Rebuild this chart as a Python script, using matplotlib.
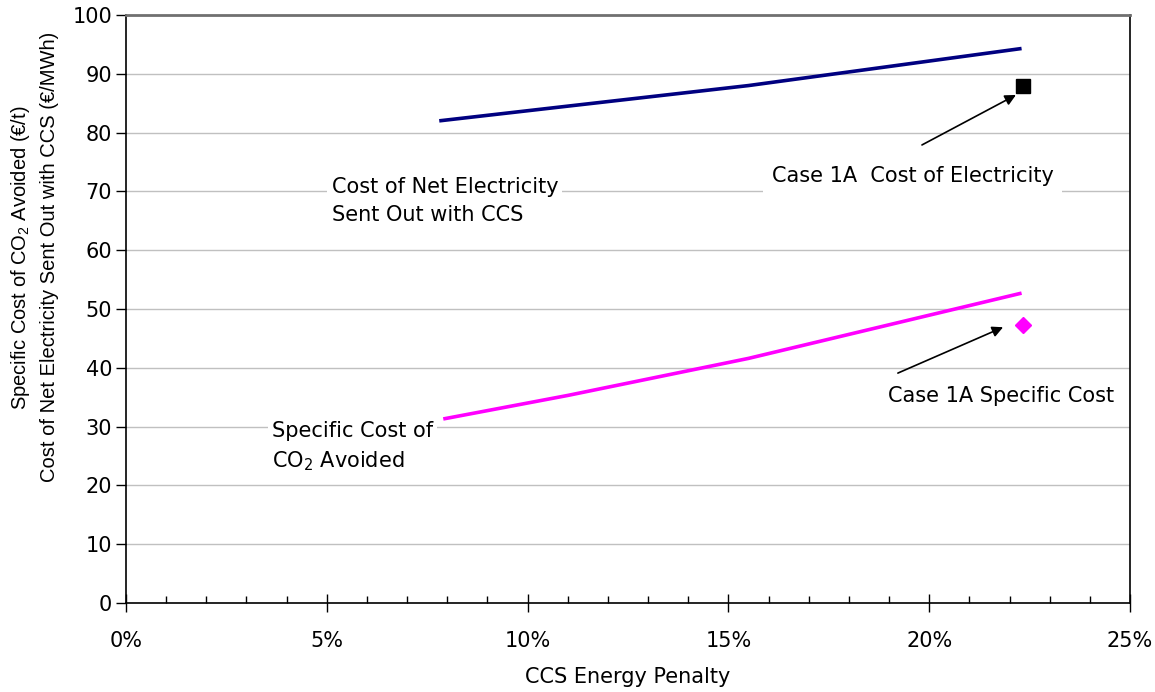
import matplotlib
matplotlib.use("Agg")
import matplotlib.pyplot as plt
from matplotlib.ticker import MultipleLocator, PercentFormatter

plt.rcParams['font.family'] = ['DejaVu Sans']
plt.rcParams['mathtext.default'] = 'regular'

# energy penalty (fraction) vs cost curves
penalty = [0.078, 0.11, 0.155, 0.223]
cost_elec = [82.0, 84.5, 88.0, 94.3]
penalty_co2 = [0.079, 0.11, 0.155, 0.223]
cost_co2 = [31.3, 35.3, 41.6, 52.7]

# case 1A points
case_penalty = 0.2234
case_elec = 87.9
case_co2 = 47.3

fig = plt.figure(figsize=(11.55, 6.92), dpi=100)
ax = fig.add_axes([126 / 1155, 89 / 692, 1004 / 1155, 588 / 692])

ax.plot(penalty, cost_elec, color='#000080', lw=2.6, solid_capstyle='butt')
ax.plot(penalty_co2, cost_co2, color='#ff00ff', lw=2.6, solid_capstyle='butt')
ax.plot([case_penalty], [case_elec], marker='s', ms=10, color='black', ls='none')
ax.plot([case_penalty], [case_co2], marker='D', ms=8.5, color='#ff00ff', ls='none')

ax.set_xlim(0, 0.25)
ax.set_ylim(0, 100)
ax.xaxis.set_major_locator(MultipleLocator(0.05))
ax.xaxis.set_minor_locator(MultipleLocator(0.01))
ax.xaxis.set_major_formatter(PercentFormatter(1.0, decimals=0))
ax.yaxis.set_major_locator(MultipleLocator(10))

ax.grid(axis='y', color='#c0c0c0', lw=1)
ax.set_axisbelow(True)
ax.tick_params(axis='x', which='major', direction='inout', length=13, width=1, pad=14, labelsize=15)
ax.tick_params(axis='x', which='minor', direction='in', length=5, width=1)
ax.tick_params(axis='y', direction='out', length=7, width=1, pad=3, labelsize=15)

for s in ['left', 'bottom', 'right']:
    ax.spines[s].set_color('black')
    ax.spines[s].set_linewidth(1.2)
ax.spines['top'].set_color('#707070')
ax.spines['top'].set_linewidth(2)

ax.set_xlabel('CCS Energy Penalty', fontsize=15, labelpad=11)
ax.set_ylabel('Specific Cost of CO$_2$ Avoided (€/t)\nCost of Net Electricity Sent Out with CCS (€/MWh)',
              fontsize=14.5, linespacing=1.5, family=['Liberation Sans', 'DejaVu Sans'])
ax.yaxis.set_label_coords(-0.067, 0.588)

box = dict(facecolor='white', edgecolor='none', pad=3)
ax.text(0.0512, 68.4, 'Cost of Net Electricity\nSent Out with CCS', fontsize=15,
        va='center', ha='left', bbox=box, linespacing=1.5)
ax.text(0.0363, 26.5, 'Specific Cost of\nCO$_2$ Avoided', fontsize=15,
        va='center', ha='left', bbox=box, linespacing=1.5)
ax.text(0.1608, 72.6, 'Case 1A  Cost of Electricity', fontsize=15,
        va='center', ha='left', bbox=dict(facecolor='white', edgecolor='none', pad=6))
ax.text(0.1898, 35.2, 'Case 1A Specific Cost', fontsize=15,
        va='center', ha='left', bbox=box)

arrow = dict(arrowstyle='-|>', color='black', lw=1.2, mutation_scale=16, shrinkA=0, shrinkB=0)
ax.annotate('', xy=(0.2216, 86.4), xytext=(0.1982, 77.9), arrowprops=arrow)
ax.annotate('', xy=(0.2184, 46.9), xytext=(0.1922, 39.1), arrowprops=arrow)

fig.savefig('out.png', dpi=100)
